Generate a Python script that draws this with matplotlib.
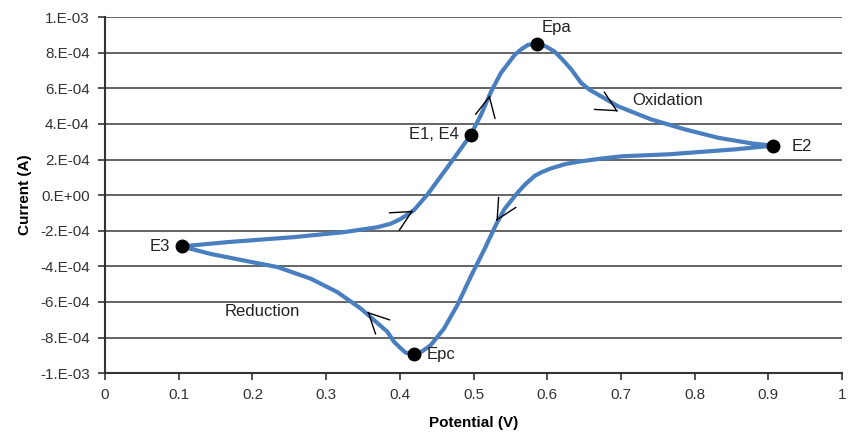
import matplotlib
matplotlib.use('Agg')
import matplotlib.pyplot as plt

plt.rcParams['font.family'] = ['Liberation Sans', 'DejaVu Sans']

# potential (V) / current (A) read along the loop, starting at E1
potential = [0.496, 0.510, 0.524, 0.537, 0.556, 0.565, 0.574, 0.586, 0.598, 0.610, 0.621,
             0.633, 0.646, 0.658, 0.673, 0.696, 0.741, 0.787, 0.832, 0.878, 0.906,
             0.855, 0.764, 0.701, 0.673, 0.646, 0.625, 0.605, 0.593, 0.583, 0.570,
             0.560, 0.542, 0.531, 0.515, 0.497, 0.478, 0.460, 0.442, 0.430, 0.419,
             0.408, 0.401, 0.392, 0.383, 0.370, 0.347, 0.315, 0.279, 0.234, 0.188,
             0.143, 0.104,
             0.166, 0.256, 0.324, 0.370, 0.388, 0.401, 0.410, 0.419, 0.438, 0.456,
             0.474, 0.496]
current = [3.37e-4, 4.5e-4, 5.83e-4, 6.85e-4, 7.88e-4, 8.2e-4, 8.44e-4, 8.5e-4, 8.35e-4, 8.06e-4, 7.6e-4,
           7.04e-4, 6.3e-4, 5.9e-4, 5.55e-4, 4.99e-4, 4.25e-4, 3.69e-4, 3.22e-4, 2.9e-4, 2.78e-4,
           2.57e-4, 2.29e-4, 2.18e-4, 2.05e-4, 1.9e-4, 1.75e-4, 1.5e-4, 1.3e-4, 1.08e-4, 0.6e-4,
           0.15e-4, -0.78e-4, -1.62e-4, -3.02e-4, -4.51e-4, -6.18e-4, -7.49e-4, -8.42e-4, -8.78e-4, -8.92e-4,
           -8.85e-4, -8.6e-4, -8.23e-4, -7.67e-4, -7.2e-4, -6.37e-4, -5.44e-4, -4.69e-4, -4.04e-4, -3.67e-4,
           -3.3e-4, -2.88e-4,
           -2.64e-4, -2.36e-4, -2.08e-4, -1.8e-4, -1.6e-4, -1.34e-4, -1.1e-4, -0.85e-4, 0.06e-4, 1.08e-4,
           2.1e-4, 3.37e-4]

# labelled points
pt_names = ['E1, E4', 'Epa', 'E2', 'E3', 'Epc']
pt_x = [0.496, 0.586, 0.906, 0.104, 0.419]
pt_y = [3.37e-4, 8.5e-4, 2.78e-4, -2.88e-4, -8.92e-4]

# direction arrows: tip position and direction (dx, dy in points)
arrow_x = [0.418, 0.522, 0.696, 0.531, 0.356]
arrow_y = [-0.88e-4, 5.6e-4, 4.7e-4, -1.45e-4, -6.55e-4]
arrow_dir = [(14, 8), (3, 14), (14, -8), (-7, -12), (-10, 10)]

yticks = [-1e-3, -8e-4, -6e-4, -4e-4, -2e-4, 0, 2e-4, 4e-4, 6e-4, 8e-4, 1e-3]
ytick_labels = ['-1.E-03', '-8.E-04', '-6.E-04', '-4.E-04', '-2.E-04', '0.E+00',
                '2.E-04', '4.E-04', '6.E-04', '8.E-04', '1.E-03']
xticks = [0, 0.1, 0.2, 0.3, 0.4, 0.5, 0.6, 0.7, 0.8, 0.9, 1]
xtick_labels = ['0', '0.1', '0.2', '0.3', '0.4', '0.5', '0.6', '0.7', '0.8', '0.9', '1']

fig = plt.figure(figsize=(8.54, 4.37), dpi=100)
ax = fig.add_axes([0.123, 0.146, 0.863, 0.815])

for yv in yticks[1:]:
    ax.axhline(yv, color='#3a3a3a', lw=1.1, zorder=1)

ax.plot(potential, current, color='#4a7fbf', lw=3.0, solid_joinstyle='round',
        solid_capstyle='round', zorder=3)
ax.plot(pt_x, pt_y, 'o', color='black', ms=9, zorder=4)

for x, y, (dx, dy) in zip(arrow_x, arrow_y, arrow_dir):
    ax.annotate('', xy=(x, y), xytext=(-dx * 0.05, -dy * 0.05), textcoords='offset points',
                arrowprops=dict(arrowstyle='->,head_length=0.9,head_width=0.45',
                                lw=1.0, color='black', shrinkA=0, shrinkB=0,
                                mutation_scale=16),
                zorder=5)

txt = dict(fontsize=12, color='#222222')
ax.text(0.592, 9.0e-4, 'Epa', ha='left', va='bottom', **txt)
ax.text(0.480, 3.4e-4, 'E1, E4', ha='right', va='center', **txt)
ax.text(0.932, 2.75e-4, 'E2', ha='left', va='center', **txt)
ax.text(0.088, -2.9e-4, 'E3', ha='right', va='center', **txt)
ax.text(0.437, -8.95e-4, 'Epc', ha='left', va='center', **txt)
ax.text(0.715, 5.3e-4, 'Oxidation', ha='left', va='center', **txt)
ax.text(0.162, -6.55e-4, 'Reduction', ha='left', va='center', **txt)

ax.set_xlim(0, 1)
ax.set_ylim(-1e-3, 1e-3)
ax.set_xticks(xticks)
ax.set_xticklabels(xtick_labels)
ax.set_yticks(yticks)
ax.set_yticklabels(ytick_labels)
ax.tick_params(axis='both', direction='out', length=5, width=1.2, color='#333333',
               labelsize=11, labelcolor='#333333', pad=6)
for side in ['top', 'right']:
    ax.spines[side].set_visible(False)
for side in ['left', 'bottom']:
    ax.spines[side].set_color('#333333')
    ax.spines[side].set_linewidth(1.5)

ax.set_xlabel('Potential (V)', fontsize=11, fontweight='bold', labelpad=10)
ax.set_ylabel('Current (A)', fontsize=11, fontweight='bold', labelpad=6)

fig.savefig('out.png', dpi=100, facecolor='white')
